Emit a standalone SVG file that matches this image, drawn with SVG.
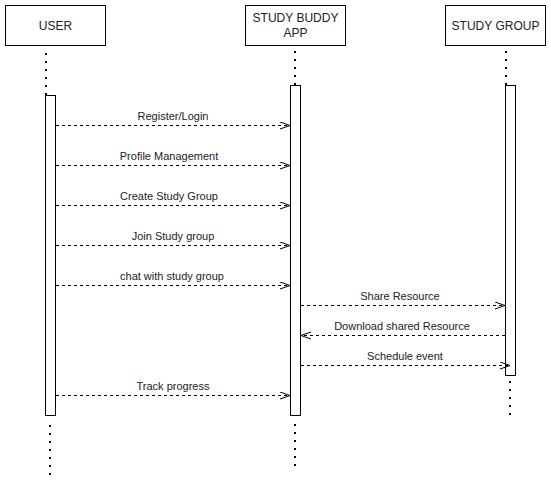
<svg xmlns="http://www.w3.org/2000/svg" width="551" height="483" viewBox="0 0 551 483">
<defs>
<style>
.box{fill:#fff;stroke:#000;stroke-width:1}
.act{fill:#fff;stroke:#000;stroke-width:1}
.life{stroke:#000;stroke-width:2;stroke-dasharray:2 6;fill:none}
.msg{stroke:#000;stroke-width:1;stroke-dasharray:3 3;fill:none}
.head{stroke:#000;stroke-width:1;fill:none}
.t{font-family:"Liberation Sans",Arial,sans-serif;font-size:12px;fill:#222;text-anchor:middle}
.l{font-family:"Liberation Sans",Arial,sans-serif;font-size:11px;fill:#222;text-anchor:middle}
</style>
<marker id="open" markerWidth="12" markerHeight="10" refX="10" refY="4" orient="auto" markerUnits="userSpaceOnUse">
<path d="M0,0.5 L10,4 L0,7.5" class="head"/>
</marker>
</defs>
<rect width="551" height="483" fill="#fff"/>
<g id="lifelines">
<line class="life" x1="46" y1="53" x2="46" y2="95"/>
<line class="life" x1="50" y1="425" x2="50" y2="477"/>
<line class="life" x1="295" y1="51" x2="295" y2="85"/>
<line class="life" x1="295" y1="424" x2="295" y2="467"/>
<line class="life" x1="506" y1="51" x2="506" y2="85"/>
<line class="life" x1="510" y1="381" x2="510" y2="417"/>
</g>
<g id="user">
<rect class="box" x="5.5" y="5.5" width="100" height="40"/>
<text class="t" x="55.5" y="29.5">USER</text>
<rect class="act" x="45.5" y="95.5" width="10" height="320"/>
</g>
<g id="app">
<rect class="box" x="245.5" y="5.5" width="100" height="40"/>
<text class="t" x="295.5" y="22">STUDY BUDDY</text>
<text class="t" x="295.5" y="36.5">APP</text>
<rect class="act" x="290.5" y="85.5" width="10" height="330"/>
</g>
<g id="group">
<rect class="box" x="445.5" y="5.5" width="100" height="40"/>
<text class="t" x="495.5" y="29.5">STUDY GROUP</text>
<rect class="act" x="505.5" y="85.5" width="10" height="290"/>
</g>
<g id="connectors">
<line class="msg" x1="56" y1="125.5" x2="290" y2="125.5" marker-end="url(#open)"/>
<line class="msg" x1="56" y1="165.5" x2="290" y2="165.5" marker-end="url(#open)"/>
<line class="msg" x1="56" y1="205.5" x2="290" y2="205.5" marker-end="url(#open)"/>
<line class="msg" x1="56" y1="245.5" x2="290" y2="245.5" marker-end="url(#open)"/>
<line class="msg" x1="56" y1="285.5" x2="290" y2="285.5" marker-end="url(#open)"/>
<line class="msg" x1="301" y1="305.5" x2="505" y2="305.5" marker-end="url(#open)"/>
<line class="msg" x1="505" y1="335.5" x2="301" y2="335.5" marker-end="url(#open)"/>
<line class="msg" x1="301" y1="365.5" x2="510" y2="365.5" marker-end="url(#open)"/>
<line class="msg" x1="56" y1="395.5" x2="290" y2="395.5" marker-end="url(#open)"/>
<text class="l" x="173" y="120">Register/Login</text>
<text class="l" x="169" y="160">Profile Management</text>
<text class="l" x="169" y="200">Create Study Group</text>
<text class="l" x="173" y="240">Join Study group</text>
<text class="l" x="172" y="280">chat with study group</text>
<text class="l" x="400" y="300">Share Resource</text>
<text class="l" x="402" y="330">Download shared Resource</text>
<text class="l" x="405" y="360">Schedule event</text>
<text class="l" x="173" y="390">Track progress</text>
</g>
</svg>
